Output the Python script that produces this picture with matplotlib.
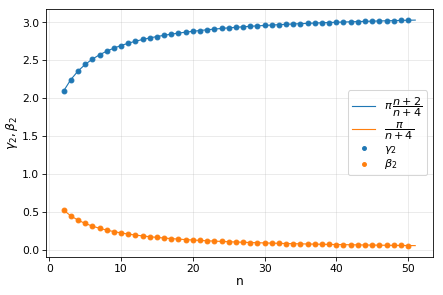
import matplotlib
matplotlib.use("Agg")
import matplotlib.pyplot as plt

# sample points
n_pts = list(range(2, 51))
gamma2 = [2.0944, 2.2440, 2.3562, 2.4435, 2.5133, 2.5704, 2.6180, 2.6583, 2.6928,
          2.7227, 2.7489, 2.7720, 2.7925, 2.8109, 2.8274, 2.8424, 2.8560, 2.8684,
          2.8798, 2.8903, 2.8999, 2.9089, 2.9172, 2.9249, 2.9322, 2.9389, 2.9453,
          2.9512, 2.9568, 2.9621, 2.9671, 2.9718, 2.9763, 2.9805, 2.9845, 2.9883,
          2.9920, 2.9955, 2.9988, 3.0020, 3.0050, 3.0079, 3.0107, 3.0134, 3.0159,
          3.0184, 3.0208, 3.0230, 3.0252]
beta2 = [0.5236, 0.4488, 0.3927, 0.3491, 0.3142, 0.2856, 0.2618, 0.2417, 0.2244,
         0.2094, 0.1963, 0.1848, 0.1745, 0.1653, 0.1571, 0.1496, 0.1428, 0.1366,
         0.1309, 0.1257, 0.1208, 0.1164, 0.1122, 0.1083, 0.1047, 0.1013, 0.0982,
         0.0952, 0.0924, 0.0898, 0.0873, 0.0849, 0.0827, 0.0806, 0.0785, 0.0766,
         0.0748, 0.0731, 0.0714, 0.0698, 0.0683, 0.0668, 0.0654, 0.0641, 0.0628,
         0.0616, 0.0604, 0.0593, 0.0582]

# curves extend one step further (n = 51)
n_line = n_pts + [51]
gamma_line = gamma2 + [3.0274]
beta_line = beta2 + [0.0571]

fig, ax = plt.subplots(figsize=(6, 4), dpi=443 / 6)
fig.subplots_adjust(left=0.104, right=0.977, top=0.969, bottom=0.129)

ax.plot(n_line, gamma_line, color='tab:blue', lw=1.1, label=r'$\pi\,\dfrac{n+2}{n+4}$')
ax.plot(n_line, beta_line, color='tab:orange', lw=1.1, label=r'$\dfrac{\pi}{n+4}$')
ax.scatter(n_pts, gamma2, s=22, color='tab:blue', label=r'$\gamma_2$', zorder=3)
ax.scatter(n_pts, beta2, s=22, color='tab:orange', label=r'$\beta_2$', zorder=3)

ax.tick_params(labelsize=10.5)
ax.grid(alpha=0.3)
ax.set_xlabel('n', fontsize=12, labelpad=1)
ax.set_ylabel(r'$\gamma_2, \beta_2$', fontsize=12, labelpad=2)
ax.legend(loc='center right', fontsize=11, labelspacing=0.15, markerscale=0.8)

fig.savefig('out.png', dpi=443 / 6)
